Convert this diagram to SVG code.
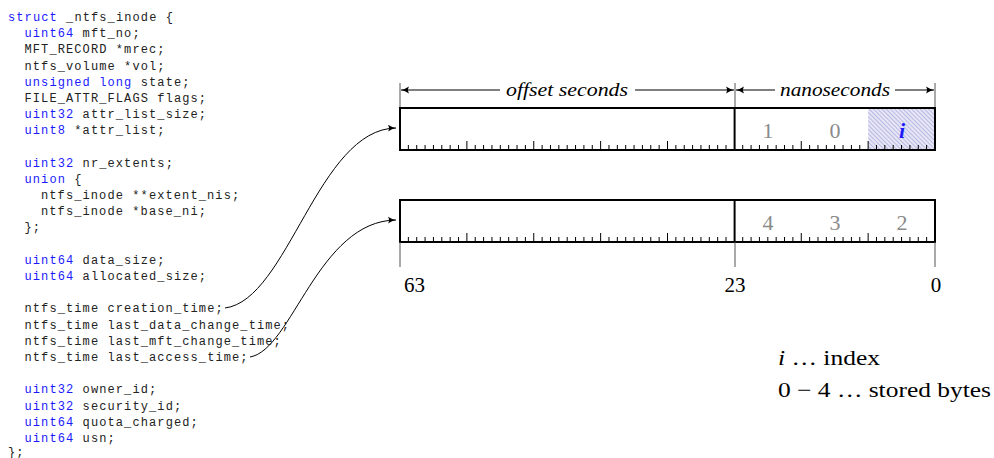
<svg xmlns="http://www.w3.org/2000/svg" width="994" height="458" viewBox="0 0 994 458">
<style>
.code{font-family:"Liberation Mono","DejaVu Sans Mono",monospace;font-size:12px;letter-spacing:1.1px;fill:#222}
.kw{fill:#1a1aff}
.ser{font-family:"Liberation Serif","DejaVu Serif",serif;fill:#000}
.dig{font-family:"Liberation Serif","DejaVu Serif",serif;font-size:22px;fill:#8a8a8a;text-anchor:middle}
.bar{fill:none;stroke:#000;stroke-width:2}
.thin{fill:none;stroke:#000;stroke-width:1}
.ext{fill:none;stroke:#555;stroke-width:1}
.tk{fill:none;stroke:#000;stroke-width:1}
.conn{fill:none;stroke:#000;stroke-width:1}
</style>
<defs>
<marker id="ah" markerWidth="10" markerHeight="8" refX="8" refY="4" orient="auto" markerUnits="userSpaceOnUse">
<path d="M0,0.5 Q4,3.2 8,4 Q4,4.8 0,7.5 Q2,4 0,0.5z" fill="#000"/>
</marker>
<pattern id="hatch" width="3" height="3" patternUnits="userSpaceOnUse" patternTransform="rotate(-45)">
<rect width="3" height="3" fill="#e6e6f6"/>
<line x1="0" y1="0" x2="0" y2="3" stroke="#8c8cd0" stroke-width="1"/>
</pattern>
<g id="ticks">
<path class="tk" d="M408.36 0v-5M416.72 0v-5M425.08 0v-5M433.44 0v-5M441.80 0v-5M450.16 0v-5M458.52 0v-5M466.88 0v-9M475.23 0v-5M483.59 0v-5M491.95 0v-5M500.31 0v-5M508.67 0v-5M517.03 0v-5M525.39 0v-5M533.75 0v-9M542.11 0v-5M550.47 0v-5M558.83 0v-5M567.19 0v-5M575.55 0v-5M583.91 0v-5M592.27 0v-5M600.63 0v-9M608.98 0v-5M617.34 0v-5M625.70 0v-5M634.06 0v-5M642.42 0v-5M650.78 0v-5M659.14 0v-5M667.50 0v-9M675.86 0v-5M684.22 0v-5M692.58 0v-5M700.94 0v-5M709.30 0v-5M717.66 0v-5M726.02 0v-5M742.73 0v-5M751.09 0v-5M759.45 0v-5M767.81 0v-5M776.17 0v-5M784.53 0v-5M792.89 0v-5M801.25 0v-9M809.61 0v-5M817.97 0v-5M826.33 0v-5M834.69 0v-5M843.05 0v-5M851.41 0v-5M859.77 0v-5M868.13 0v-9M876.48 0v-5M884.84 0v-5M893.20 0v-5M901.56 0v-5M909.92 0v-5M918.28 0v-5M926.64 0v-5"/>
</g>
</defs>
<rect width="994" height="458" fill="#fff"/>

<g id="code" class="code">
<text x="8" y="21"><tspan class="kw">struct</tspan> _ntfs_inode {</text>
<text x="24.5" y="37.2"><tspan class="kw">uint64</tspan> mft_no;</text>
<text x="24.5" y="53.4">MFT_RECORD *mrec;</text>
<text x="24.5" y="69.6">ntfs_volume *vol;</text>
<text x="24.5" y="85.7"><tspan class="kw">unsigned long</tspan> state;</text>
<text x="24.5" y="101.9">FILE_ATTR_FLAGS flags;</text>
<text x="24.5" y="118.1"><tspan class="kw">uint32</tspan> attr_list_size;</text>
<text x="24.5" y="134.3"><tspan class="kw">uint8</tspan> *attr_list;</text>
<text x="24.5" y="166.7"><tspan class="kw">uint32</tspan> nr_extents;</text>
<text x="24.5" y="182.9"><tspan class="kw">union</tspan> {</text>
<text x="41" y="199.0">ntfs_inode **extent_nis;</text>
<text x="41" y="215.2">ntfs_inode *base_ni;</text>
<text x="24.5" y="231.4">};</text>
<text x="24.5" y="263.8"><tspan class="kw">uint64</tspan> data_size;</text>
<text x="24.5" y="280.0"><tspan class="kw">uint64</tspan> allocated_size;</text>
<text x="24.5" y="312.3">ntfs_time creation_time;</text>
<text x="24.5" y="328.5">ntfs_time last_data_change_time;</text>
<text x="24.5" y="344.7">ntfs_time last_mft_change_time;</text>
<text x="24.5" y="360.9">ntfs_time last_access_time;</text>
<text x="24.5" y="393.3"><tspan class="kw">uint32</tspan> owner_id;</text>
<text x="24.5" y="409.5"><tspan class="kw">uint32</tspan> security_id;</text>
<text x="24.5" y="425.6"><tspan class="kw">uint64</tspan> quota_charged;</text>
<text x="24.5" y="441.8"><tspan class="kw">uint64</tspan> usn;</text>
<text x="8" y="455.5">};</text>
</g>

<g id="dimensions">
<path class="ext" d="M400 83V108M735 83V108M935 83V108"/>
<path class="thin" d="M500 90H401" marker-end="url(#ah)"/>
<path class="thin" d="M635 90H734" marker-end="url(#ah)"/>
<path class="thin" d="M775 90H736" marker-end="url(#ah)"/>
<path class="thin" d="M895 90H934" marker-end="url(#ah)"/>
<text class="ser" x="506" y="96" font-size="19" font-style="italic" textLength="122" lengthAdjust="spacingAndGlyphs">offset seconds</text>
<text class="ser" x="780" y="96" font-size="19" font-style="italic" textLength="110" lengthAdjust="spacingAndGlyphs">nanoseconds</text>
</g>

<g id="bar-top">
<rect x="868.13" y="108" width="66.87" height="42" fill="url(#hatch)"/>
<use href="#ticks" transform="translate(0,150)"/>
<rect class="bar" x="400" y="108" width="535" height="42"/>
<path class="bar" d="M734.6 108V150" stroke-width="1.6"/>
<text class="dig" x="768" y="138">1</text>
<text class="dig" x="835" y="138">0</text>
<text class="ser" x="902" y="138" font-size="22" font-style="italic" font-weight="bold" text-anchor="middle" style="fill:#1a1aff">i</text>
</g>

<g id="bar-bottom">
<use href="#ticks" transform="translate(0,242)"/>
<rect class="bar" x="400" y="200" width="535" height="42"/>
<path class="bar" d="M734.6 200V242" stroke-width="1.6"/>
<text class="dig" x="768" y="230">4</text>
<text class="dig" x="835" y="230">3</text>
<text class="dig" x="902" y="230">2</text>
<path class="ext" d="M400 242V267M735 242V267M935 242V267"/>
<text class="ser" x="404" y="292" font-size="21">63</text>
<text class="ser" x="735" y="292" font-size="21" text-anchor="middle">23</text>
<text class="ser" x="936" y="292" font-size="21" text-anchor="middle">0</text>
</g>

<g id="connectors">
<path class="conn" d="M225 308C288 300 318 129 396 128" marker-end="url(#ah)"/>
<path class="conn" d="M250 357C292 350 318 221 396 220" marker-end="url(#ah)"/>
</g>

<g id="legend">
<text class="ser" x="778" y="365" font-size="21" textLength="102" lengthAdjust="spacingAndGlyphs"><tspan font-style="italic">i</tspan> … index</text>
<text class="ser" x="778" y="397" font-size="21" textLength="213" lengthAdjust="spacingAndGlyphs">0 − 4 … stored bytes</text>
</g>
</svg>
